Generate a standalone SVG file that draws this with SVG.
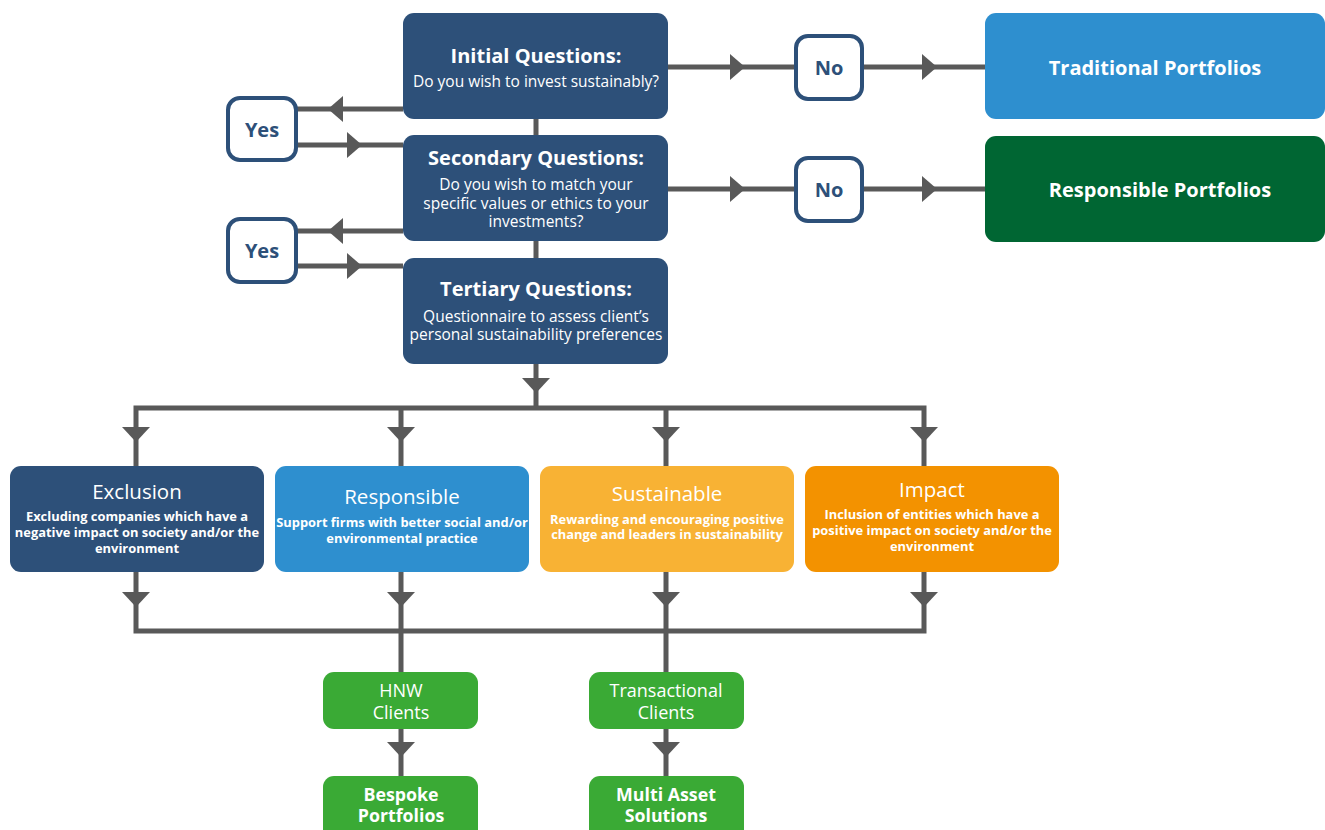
<svg xmlns="http://www.w3.org/2000/svg" xmlns:xlink="http://www.w3.org/1999/xlink" width="1325" height="830" viewBox="0 0 1325 830">
<style>
.ln{stroke:#595959;stroke-width:5;fill:none}
.ah{fill:#595959}
.dq{fill:#2d5079}
.lb{fill:#2e8fcf}
.dg{fill:#006633}
.ye{fill:#f8b234}
.or{fill:#f39200}
.gr{fill:#3aaa35}
.yn{fill:#fff;stroke:#2d5079;stroke-width:4}
text{font-family:"Open Sans","DejaVu Sans",sans-serif;text-anchor:middle;fill:#fff}
.t1{font-size:20px;font-weight:700}
.s1{font-size:15.5px}
.ynt{font-size:20px;font-weight:700;fill:#2d5079}
.ct{font-size:20.5px}
.cd{font-size:12.9px;font-weight:700}
.cl{font-size:18px}
.clb{font-size:17.8px;font-weight:700}
</style>
<defs>
<path id="ad" d="M-14,-15 L14,-15 L0,0 Z"/>
<path id="ar" d="M-15,-13 L-15,13 L0,0 Z"/>
<path id="al" d="M15,-13 L15,13 L0,0 Z"/>
</defs>
<g id="connectors">
<path class="ln" d="M536,119 V135 M536,241 V258 M536,364 V408"/>
<path class="ln" d="M403,109 H297 M297,145 H403 M403,231 H297 M297,266 H403"/>
<path class="ln" d="M668,67 H795 M863,67 H985 M668,189 H795 M863,189 H985"/>
<path class="ln" d="M136,466 V408 H924 V466 M401,408 V466 M666,408 V466"/>
<path class="ln" d="M136,572 V631 H924 V572 M401,572 V672 M666,572 V672"/>
<path class="ln" d="M401,729 V776 M666,729 V776"/>
<g class="ah">
<use xlink:href="#al" x="328" y="109"/>
<use xlink:href="#ar" x="362" y="145"/>
<use xlink:href="#al" x="328" y="231"/>
<use xlink:href="#ar" x="362" y="266"/>
<use xlink:href="#ar" x="745" y="67"/>
<use xlink:href="#ar" x="937" y="67"/>
<use xlink:href="#ar" x="745" y="189"/>
<use xlink:href="#ar" x="937" y="189"/>
<use xlink:href="#ad" x="536" y="393"/>
<use xlink:href="#ad" x="136" y="442"/>
<use xlink:href="#ad" x="401" y="442"/>
<use xlink:href="#ad" x="666" y="442"/>
<use xlink:href="#ad" x="924" y="442"/>
<use xlink:href="#ad" x="136" y="607"/>
<use xlink:href="#ad" x="401" y="607"/>
<use xlink:href="#ad" x="666" y="607"/>
<use xlink:href="#ad" x="924" y="607"/>
<use xlink:href="#ad" x="401" y="757"/>
<use xlink:href="#ad" x="666" y="757"/>
</g>
</g>
<g id="initial">
<rect class="dq" x="403" y="13" width="265" height="106" rx="11"/>
<text class="t1" x="536" y="63">Initial Questions:</text>
<text class="s1" x="536" y="87">Do you wish to invest sustainably?</text>
</g>
<g id="secondary">
<rect class="dq" x="403" y="135" width="265" height="106" rx="11"/>
<text class="t1" x="536" y="165">Secondary Questions:</text>
<text class="s1" x="536" y="190">Do you wish to match your</text>
<text class="s1" x="536" y="209">specific values or ethics to your</text>
<text class="s1" x="536" y="227">investments?</text>
</g>
<g id="tertiary">
<rect class="dq" x="403" y="258" width="265" height="106" rx="11"/>
<text class="t1" x="536" y="296">Tertiary Questions:</text>
<text class="s1" x="536" y="322">Questionnaire to assess client’s</text>
<text class="s1" x="536" y="340">personal sustainability preferences</text>
</g>
<g id="yes1">
<rect class="yn" x="228" y="98" width="68" height="62" rx="12"/>
<text class="ynt" x="262" y="137">Yes</text>
</g>
<g id="yes2">
<rect class="yn" x="228" y="219" width="68" height="63" rx="12"/>
<text class="ynt" x="262" y="258">Yes</text>
</g>
<g id="no1">
<rect class="yn" x="796" y="36" width="66" height="63" rx="12"/>
<text class="ynt" x="829" y="75">No</text>
</g>
<g id="no2">
<rect class="yn" x="796" y="158" width="66" height="63" rx="12"/>
<text class="ynt" x="829" y="197">No</text>
</g>
<g id="traditional">
<rect class="lb" x="985" y="13" width="340" height="106" rx="11"/>
<text class="t1" x="1155" y="75">Traditional Portfolios</text>
</g>
<g id="responsible-portfolios">
<rect class="dg" x="985" y="136" width="340" height="106" rx="11"/>
<text class="t1" x="1160" y="197">Responsible Portfolios</text>
</g>
<g id="exclusion">
<rect class="dq" x="10" y="466" width="254" height="106" rx="11"/>
<text class="ct" x="137" y="499">Exclusion</text>
<text class="cd" x="137" y="521">Excluding companies which have a</text>
<text class="cd" x="137" y="537">negative impact on society and/or the</text>
<text class="cd" x="137" y="553">environment</text>
</g>
<g id="responsible">
<rect class="lb" x="275" y="466" width="254" height="106" rx="11"/>
<text class="ct" x="402" y="504">Responsible</text>
<text class="cd" x="402" y="527">Support firms with better social and/or</text>
<text class="cd" x="402" y="543">environmental practice</text>
</g>
<g id="sustainable">
<rect class="ye" x="540" y="466" width="254" height="106" rx="11"/>
<text class="ct" x="667" y="501">Sustainable</text>
<text class="cd" x="667" y="524">Rewarding and encouraging positive</text>
<text class="cd" x="667" y="539">change and leaders in sustainability</text>
</g>
<g id="impact">
<rect class="or" x="805" y="466" width="254" height="106" rx="11"/>
<text class="ct" x="932" y="497">Impact</text>
<text class="cd" x="932" y="519">Inclusion of entities which have a</text>
<text class="cd" x="932" y="535">positive impact on society and/or the</text>
<text class="cd" x="932" y="551">environment</text>
</g>
<g id="hnw">
<rect class="gr" x="323" y="672" width="155" height="57" rx="11"/>
<text class="cl" x="401" y="697">HNW</text>
<text class="cl" x="401" y="719">Clients</text>
</g>
<g id="transactional">
<rect class="gr" x="589" y="672" width="155" height="57" rx="11"/>
<text class="cl" x="666" y="697">Transactional</text>
<text class="cl" x="666" y="719">Clients</text>
</g>
<g id="bespoke">
<rect class="gr" x="323" y="776" width="155" height="70" rx="11"/>
<text class="clb" x="401" y="801">Bespoke</text>
<text class="clb" x="401" y="822">Portfolios</text>
</g>
<g id="multi-asset">
<rect class="gr" x="589" y="776" width="155" height="70" rx="11"/>
<text class="clb" x="666" y="801">Multi Asset</text>
<text class="clb" x="666" y="822">Solutions</text>
</g>
</svg>
